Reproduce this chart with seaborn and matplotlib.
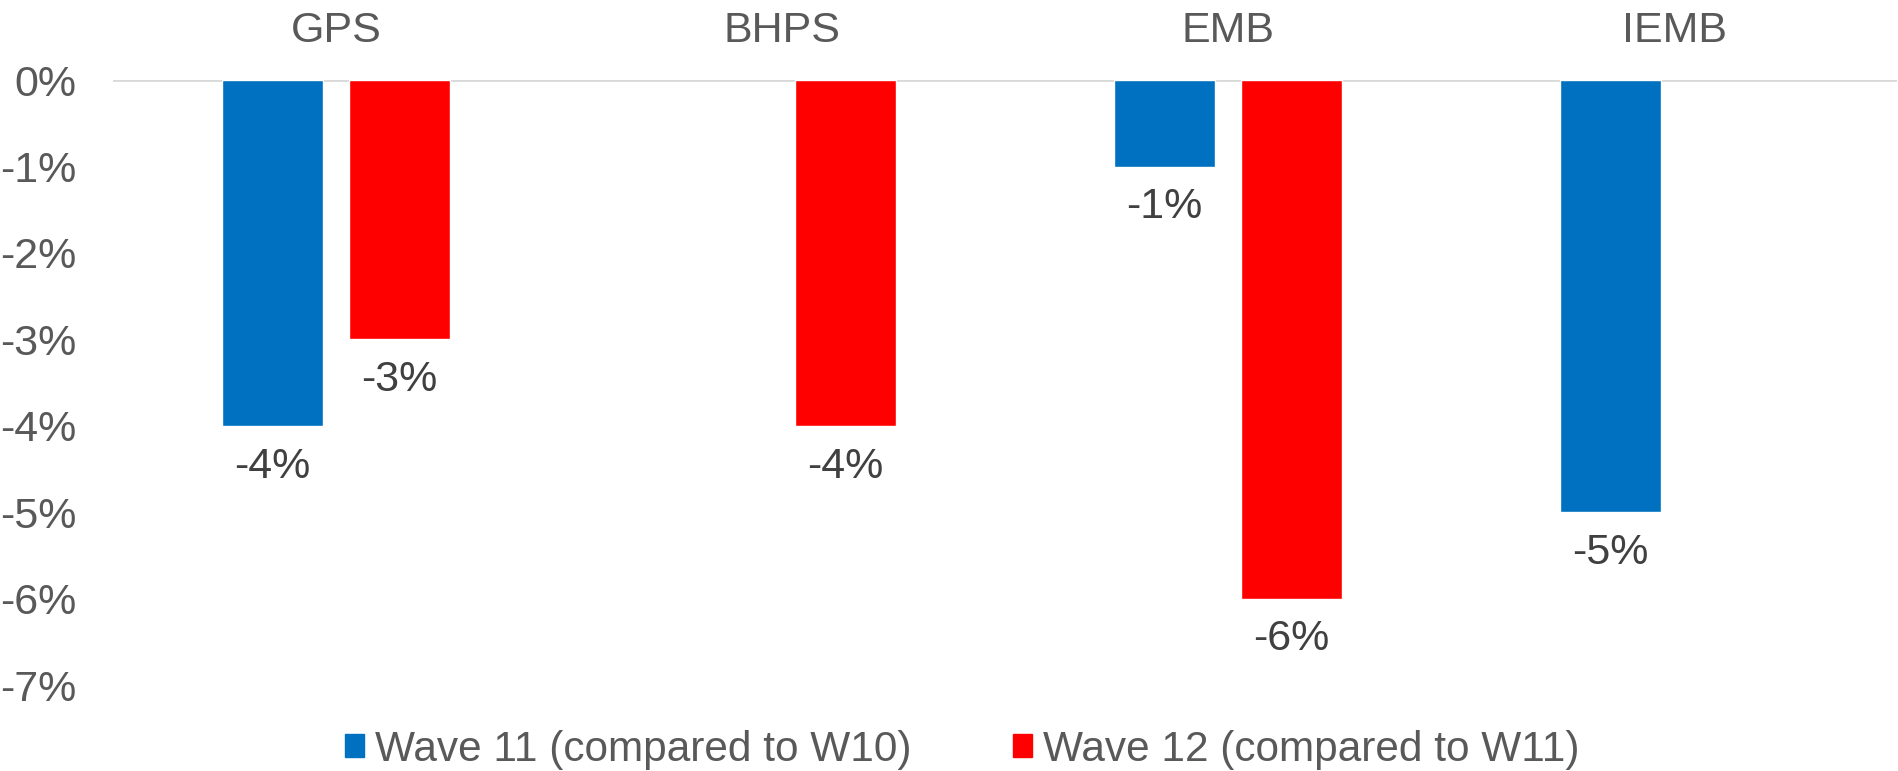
import numpy as np
import pandas as pd
import seaborn as sns
import matplotlib.pyplot as plt
from matplotlib.patches import Patch

sns.set_style('white')
plt.rcParams['font.family'] = ['Liberation Sans', 'DejaVu Sans']

# data
surveys = ['GPS', 'BHPS', 'EMB', 'IEMB']
waves = ['Wave 11 (compared to W10)', 'Wave 12 (compared to W11)']
wave11 = [-0.04, np.nan, -0.01, -0.05]
wave12 = [-0.03, -0.04, -0.06, np.nan]
colors = ['#0070C0', '#FF0000']

df = pd.DataFrame({
    'survey': surveys * 2,
    'wave': [waves[0]] * 4 + [waves[1]] * 4,
    'change': wave11 + wave12,
}).dropna()

fig = plt.figure(figsize=(18.98, 7.71), dpi=100)
ax = fig.add_axes([0.0595, 0.1115, 0.94, 0.7845])

sns.barplot(data=df, x='survey', y='change', hue='wave', order=surveys,
            hue_order=waves, palette=colors, width=0.57, gap=0.2,
            saturation=1, ax=ax, legend=False)

for cont in ax.containers:
    ax.bar_label(cont, fmt=lambda v: f'{v*100:.0f}%', padding=15,
                 fontsize=31, color='#404040')

ax.set_ylim(-0.07, 0)
ax.set_yticks(np.arange(-0.07, 0.001, 0.01))
ax.set_yticklabels([f'{t*100:.0f}%' for t in np.arange(-0.07, 0.001, 0.01)])
ax.xaxis.tick_top()
ax.set_xlabel('')
ax.set_ylabel('')
ax.tick_params(axis='x', length=0, pad=21, labelsize=31, colors='#595959')
ax.tick_params(axis='y', length=0, pad=26, labelsize=31, colors='#595959')
for s in ax.spines.values():
    s.set_visible(False)
ax.axhline(0, color='#D9D9D9', lw=2, zorder=0)

handles = [Patch(color=c, label=w) for c, w in zip(colors, waves)]
fig.legend(handles=handles, loc='lower center', bbox_to_anchor=(0.507, -0.048),
           ncol=2, frameon=False, fontsize=30.5, labelcolor='#595959',
           handlelength=0.45, handleheight=0.45, handletextpad=0.25,
           columnspacing=2.4)

plt.savefig('out.png', dpi=100)
